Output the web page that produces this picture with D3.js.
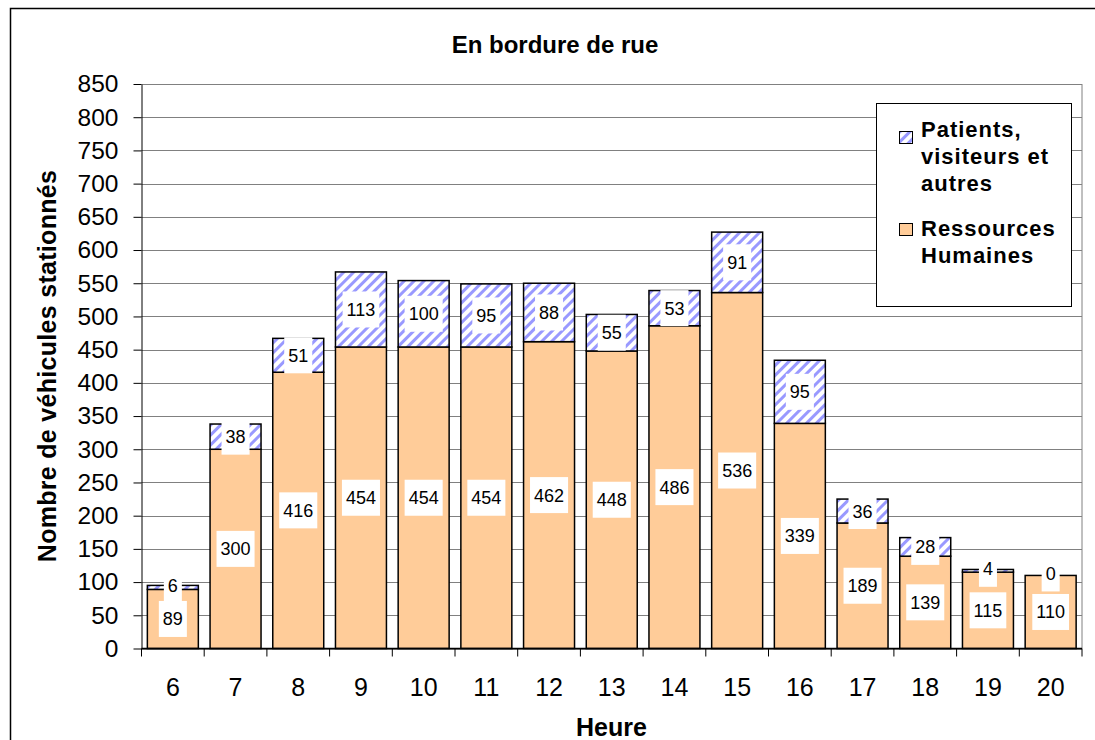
<!DOCTYPE html>
<html>
<head>
<meta charset="utf-8">
<script src="https://cdn.jsdelivr.net/npm/d3@7"></script>
<style>
  body { margin: 0; background: #fff; font-family: "Liberation Sans", Arial, sans-serif; }
</style>
</head>
<body>
<script>
'use strict';

const hours = [6, 7, 8, 9, 10, 11, 12, 13, 14, 15, 16, 17, 18, 19, 20];
const ressources = [89, 300, 416, 454, 454, 454, 462, 448, 486, 536, 339, 189, 139, 115, 110];
const patients = [6, 38, 51, 113, 100, 95, 88, 55, 53, 91, 95, 36, 28, 4, 0];
const yTicks = d3.range(0, 851, 50);
const legendLines = [
  ["Patients,", "visiteurs et", "autres"],
  ["Ressources", "Humaines"]
];

const width = 1095;
const height = 740;
const plot = { left: 141.5, right: 1082, top: 84, bottom: 648.5 };

const svg = d3.select('body').append('svg')
  .attr('width', width)
  .attr('height', height)
  .style('font-family', '"Liberation Sans", Arial, sans-serif');

const defs = svg.append('defs');
const pat = defs.append('pattern')
  .attr('id', 'hatch')
  .attr('patternUnits', 'userSpaceOnUse')
  .attr('width', 7)
  .attr('height', 7)
  .attr('patternTransform', 'rotate(45)');
pat.append('rect').attr('width', 7).attr('height', 7).attr('fill', '#fff');
pat.append('rect').attr('x', 0).attr('width', 3).attr('height', 7).attr('fill', '#9999FF');

// outer frame
svg.append('rect')
  .attr('x', 10.5).attr('y', 8.5)
  .attr('width', 1200).attr('height', 900)
  .attr('fill', '#fff')
  .attr('stroke', '#000')
  .attr('stroke-width', 1.5);

const x = d3.scaleBand()
  .domain(hours)
  .range([plot.left, plot.right])
  .paddingInner(0.187)
  .paddingOuter(0.0935);

const y = d3.scaleLinear()
  .domain([0, 850])
  .range([plot.bottom, plot.top]);

// gridlines
svg.append('g')
  .selectAll('line')
  .data(yTicks)
  .enter()
  .append('line')
  .attr('x1', plot.left)
  .attr('x2', plot.right)
  .attr('y1', d => Math.round(y(d)) + 0.5)
  .attr('y2', d => Math.round(y(d)) + 0.5)
  .attr('stroke', '#808080')
  .attr('stroke-width', 1);

svg.append('line')
  .attr('x1', plot.right).attr('x2', plot.right)
  .attr('y1', plot.top).attr('y2', plot.bottom)
  .attr('stroke', '#808080');

// y axis
const yAxis = d3.axisLeft(y).tickValues(yTicks).tickSize(8).tickPadding(15).tickSizeOuter(0);
const gy = svg.append('g')
  .attr('transform', 'translate(' + plot.left + ',0)')
  .call(yAxis);
gy.selectAll('text')
  .style('font-family', '"Liberation Sans", Arial, sans-serif')
  .style('font-size', '24.5px')
  .attr('fill', '#000');
gy.selectAll('line').attr('stroke', '#000');
gy.select('.domain').attr('stroke', '#000');

// bars
const bars = svg.append('g');
hours.forEach(function(h, i) {
  const r = ressources[i];
  const p = patients[i];
  bars.append('rect')
    .attr('x', x(h))
    .attr('y', y(r))
    .attr('width', x.bandwidth())
    .attr('height', y(0) - y(r))
    .attr('fill', '#FFCC99')
    .attr('stroke', '#000')
    .attr('stroke-width', 1.5);
  bars.append('rect')
    .attr('x', x(h))
    .attr('y', y(r + p))
    .attr('width', x.bandwidth())
    .attr('height', y(r) - y(r + p))
    .attr('fill', 'url(#hatch)')
    .attr('stroke', '#000')
    .attr('stroke-width', 1.5);
});

// x axis
const gx = svg.append('g')
  .attr('transform', 'translate(0,' + plot.bottom + ')');
gx.append('line')
  .attr('x1', plot.left).attr('x2', plot.right)
  .attr('stroke', '#000').attr('stroke-width', 1.5);
d3.range(hours.length + 1).forEach(function(k) {
  const xx = plot.left + k * (plot.right - plot.left) / hours.length;
  gx.append('line')
    .attr('x1', xx).attr('x2', xx)
    .attr('y1', 0).attr('y2', 8)
    .attr('stroke', '#000');
});
gx.selectAll('.xlab')
  .data(hours)
  .enter()
  .append('text')
  .attr('class', 'xlab')
  .attr('x', d => x(d) + x.bandwidth() / 2)
  .attr('y', 47.5)
  .attr('text-anchor', 'middle')
  .style('font-size', '25px')
  .text(d => d);

// data labels
function dataLabel(cx, cy, value) {
  const g = svg.append('g');
  const bg = g.append('rect').attr('fill', '#fff');
  const t = g.append('text')
    .attr('x', cx)
    .attr('y', cy)
    .attr('text-anchor', 'middle')
    .attr('dy', '0.36em')
    .style('font-size', '18px')
    .text(value);
  const w = t.node().getComputedTextLength();
  bg.attr('x', cx - w / 2 - 4)
    .attr('y', cy - 18)
    .attr('width', w + 8)
    .attr('height', 36);
}
hours.forEach(function(h, i) {
  const cx = x(h) + x.bandwidth() / 2;
  dataLabel(cx, y(ressources[i] / 2), ressources[i]);
});
hours.forEach(function(h, i) {
  const cx = x(h) + x.bandwidth() / 2;
  const r = ressources[i];
  const p = patients[i];
  dataLabel(cx, y(r + p / 2) + (p < 10 ? -2 : 0), p);
});

// titles
svg.append('text')
  .attr('x', 555)
  .attr('y', 53)
  .attr('text-anchor', 'middle')
  .style('font-size', '24px')
  .style('font-weight', 'bold')
  .text('En bordure de rue');

svg.append('text')
  .attr('x', 611.5)
  .attr('y', 736)
  .attr('text-anchor', 'middle')
  .style('font-size', '25px')
  .style('font-weight', 'bold')
  .text('Heure');

svg.append('text')
  .attr('transform', 'translate(56,366)rotate(-90)')
  .attr('text-anchor', 'middle')
  .style('font-size', '25px')
  .style('font-weight', 'bold')
  .style('letter-spacing', '0.3px')
  .text('Nombre de véhicules stationnés');

// legend
const lg = svg.append('g');
lg.append('rect')
  .attr('x', 876.5).attr('y', 103.5)
  .attr('width', 195).attr('height', 203)
  .attr('fill', '#fff')
  .attr('stroke', '#000');
const swatchFill = ['url(#hatch)', '#FFCC99'];
const swatchTop = [131, 223];
const lineStart = [136.5, 236];
legendLines.forEach(function(lines, i) {
  lg.append('rect')
    .attr('x', 899.5)
    .attr('y', swatchTop[i] + 0.5)
    .attr('width', 13)
    .attr('height', 12)
    .attr('fill', swatchFill[i])
    .attr('stroke', '#000');
  lines.forEach(function(s, j) {
    lg.append('text')
      .attr('x', 921)
      .attr('y', lineStart[i] + j * 27)
      .style('font-size', '22px')
      .style('font-weight', 'bold')
      .style('letter-spacing', '1px')
      .text(s);
  });
});
</script>
</body>
</html>
